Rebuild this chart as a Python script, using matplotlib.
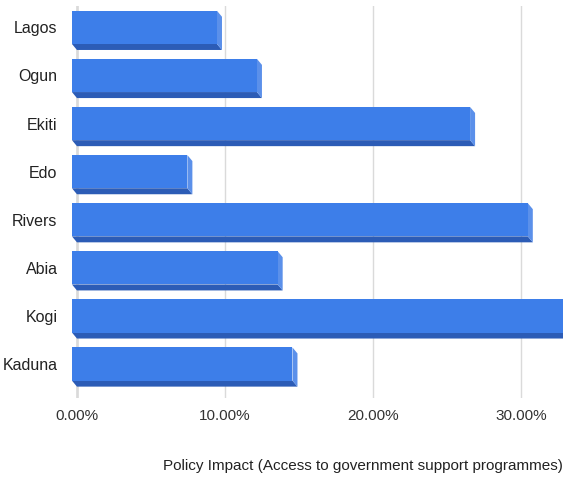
import matplotlib
matplotlib.use("Agg")
import matplotlib.pyplot as plt
from matplotlib.patches import Polygon

states = ["Lagos", "Ogun", "Ekiti", "Edo", "Rivers", "Abia", "Kogi", "Kaduna"]
impact = [9.8, 12.5, 26.9, 7.8, 30.8, 13.9, 34.5, 14.9]
xticks = [0, 10, 20, 30]
xlabel = "Policy Impact (Access to government support programmes)"

face_col = "#3d7ee9"
side_col = "#5b90ea"
bottom_col = "#2c5cb6"

plt.rcParams["font.family"] = ["Liberation Sans Narrow", "Liberation Sans", "DejaVu Sans"]

fig = plt.figure(figsize=(5.63, 4.78), dpi=100)
ax = fig.add_axes([0.1243, 0.167, 0.8757, 0.820])
ax.set_xlim(-0.47, 32.84)
ax.set_ylim(-0.71, len(states) - 1 + 0.44)

# depth of the 3d bevel, in pixels -> data units
inv = ax.transData.inverted()
o = ax.transData.transform((0, 0))
dx = inv.transform((o[0] + 5, o[1]))[0]
dy = inv.transform((o[0], o[1] + 6))[1]
h = 0.69

n = len(states)
for i, (name, v) in enumerate(zip(states, impact)):
    y = n - 1 - i
    top = y + h / 2
    bot = y - h / 2
    # back box is shifted right/down from the front face
    bx0, bx1 = -dx + dx, v
    by0 = bot - dy
    ax.add_patch(Polygon([(bx0, by0), (bx1, by0), (bx1 - dx, bot), (-dx, bot)],
                         closed=True, facecolor=bottom_col, edgecolor="none", zorder=3))
    ax.add_patch(Polygon([(bx1 - dx, bot), (bx1, by0), (bx1, top - dy), (bx1 - dx, top)],
                         closed=True, facecolor=side_col, edgecolor="none", zorder=3))
    ax.add_patch(Polygon([(-dx, bot), (v - dx, bot), (v - dx, top), (-dx, top)],
                         closed=True, facecolor=face_col, edgecolor="none", zorder=4))

ax.set_yticks(range(n))
ax.set_yticklabels(states[::-1], fontsize=11.5, color="#222222")
ax.tick_params(axis="y", length=0, pad=9)

ax.set_xticks(xticks)
ax.set_xticklabels(["%.2f%%" % t for t in xticks], fontsize=11, color="#333333")
ax.tick_params(axis="x", length=0, pad=8)
ax.grid(axis="x", color="#dadada", linewidth=1, zorder=0)
ax.axvline(0, color="#666666", linewidth=1, zorder=1)

for s in ax.spines.values():
    s.set_visible(False)

ax.set_xlabel(xlabel, loc="right", fontsize=11, color="#222222", labelpad=26)

fig.savefig("out.png", dpi=100)
